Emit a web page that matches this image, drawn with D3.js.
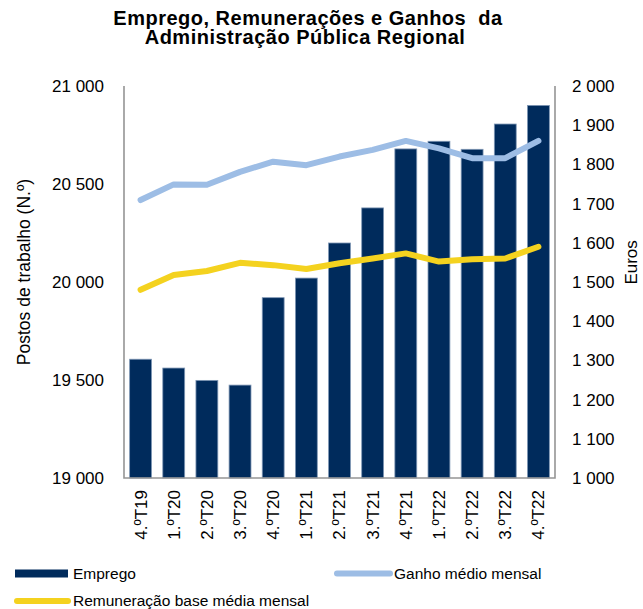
<!DOCTYPE html>
<html>
<head>
<meta charset="utf-8">
<script src="https://cdn.jsdelivr.net/npm/d3@7"></script>
<style>
  html, body { margin: 0; padding: 0; background: #fff; }
  svg { display: block; font-family: "Liberation Sans", Arial, sans-serif; }
</style>
</head>
<body>
<svg id="chart" width="643" height="609"></svg>
<script>
// Quarters shown on the horizontal axis
const quarters = ["4.ºT19", "1.ºT20", "2.ºT20", "3.ºT20", "4.ºT20", "1.ºT21", "2.ºT21",
                  "3.ºT21", "4.ºT21", "1.ºT22", "2.ºT22", "3.ºT22", "4.ºT22"];

// Jobs (left axis, number of posts)
const emprego = [19606, 19561, 19498, 19474, 19920, 20020, 20199, 20378, 20679, 20718, 20677, 20806, 20901];

// Average monthly earnings (right axis, euros)
const ganhoMedio = [1709, 1749, 1748, 1781, 1807, 1798, 1820, 1837, 1860, 1841, 1816, 1816, 1860];

// Average monthly base pay (right axis, euros)
const remuneracaoBase = [1480, 1518, 1528, 1549, 1543, 1533, 1548, 1560, 1573, 1552, 1558, 1560, 1590];

// Axis ticks
const leftTicks = [19000, 19500, 20000, 20500, 21000];
const rightTicks = [1000, 1100, 1200, 1300, 1400, 1500, 1600, 1700, 1800, 1900, 2000];

const titleLines = ["Emprego, Remunerações e Ganhos  da", "Administração Pública Regional"];
const seriesNames = ["Emprego", "Ganho médio mensal", "Remuneração base média mensal"];

const colors = { bar: "#002b5c", barEdge: "#7f97b5", ganho: "#9dbde5", remun: "#f4d21f", frame: "#959595" };

const svg = d3.select("#chart");
const plot = { left: 124, right: 555, top: 86, bottom: 478 };

const pt = d3.formatLocale({ decimal: ",", thousands: " ", grouping: [3], currency: ["", " €"] });
const fmt = pt.format(",d");

const x = d3.scaleBand().domain(quarters).range([plot.left, plot.right])
  .paddingInner(0.34).paddingOuter(0.17);
const yL = d3.scaleLinear().domain([19000, 21000]).range([plot.bottom, plot.top]);
const yR = d3.scaleLinear().domain([1000, 2000]).range([plot.bottom, plot.top]);

// Title, two lines
const titlePos = [{ x: 308, y: 25 }, { x: 305, y: 43.5 }];
svg.append("g").selectAll("text").data(titleLines).join("text")
  .attr("x", (d, i) => titlePos[i].x).attr("y", (d, i) => titlePos[i].y)
  .attr("text-anchor", "middle")
  .style("font-weight", "bold").style("font-size", "20px").style("letter-spacing", "0.5px")
  .style("white-space", "pre")
  .text(d => d);

// Bars
svg.append("g").selectAll("rect").data(emprego).join("rect")
  .attr("x", (d, i) => x(quarters[i]))
  .attr("width", x.bandwidth())
  .attr("y", d => yL(d))
  .attr("height", d => yL(19000) - yL(d))
  .attr("fill", colors.bar)
  .attr("stroke", colors.barEdge).attr("stroke-width", 0.8);

// Frame lines: left, right and bottom
const frame = svg.append("g").attr("stroke", colors.frame).attr("stroke-width", 1.6).attr("fill", "none");
frame.append("path").attr("d", `M${plot.left},${plot.top}V${plot.bottom}H${plot.right}V${plot.top}`);

// Lines
const lineFor = d3.line().x((d, i) => x(quarters[i]) + x.bandwidth() / 2).y(d => yR(d));
svg.append("path").datum(ganhoMedio).attr("d", lineFor)
  .attr("fill", "none").attr("stroke", colors.ganho).attr("stroke-width", 6)
  .attr("stroke-linejoin", "round").attr("stroke-linecap", "round");
svg.append("path").datum(remuneracaoBase).attr("d", lineFor)
  .attr("fill", "none").attr("stroke", colors.remun).attr("stroke-width", 6)
  .attr("stroke-linejoin", "round").attr("stroke-linecap", "round");

// Left axis
const axL = svg.append("g").attr("transform", `translate(${plot.left - 20},0)`)
  .call(d3.axisLeft(yL).tickValues(leftTicks).tickFormat(fmt).tickSize(0).tickPadding(0));
axL.select(".domain").remove();
axL.selectAll("text").style("font-size", "17px").style("font-family", "Liberation Sans, Arial, sans-serif").attr("fill", "#000");

// Right axis
const axR = svg.append("g").attr("transform", `translate(${plot.right + 17},0)`)
  .call(d3.axisRight(yR).tickValues(rightTicks).tickFormat(fmt).tickSize(0).tickPadding(0));
axR.select(".domain").remove();
axR.selectAll("text").style("font-size", "17px").style("font-family", "Liberation Sans, Arial, sans-serif").attr("fill", "#000");

// Bottom axis labels (rotated)
const axB = svg.append("g").attr("transform", `translate(0,${plot.bottom + 12})`)
  .call(d3.axisBottom(x).tickSize(0).tickPadding(0));
axB.select(".domain").remove();
axB.selectAll("text")
  .style("font-size", "17px").style("font-family", "Liberation Sans, Arial, sans-serif").attr("fill", "#000")
  .attr("transform", "rotate(-90)")
  .attr("text-anchor", "end")
  .attr("x", 0).attr("y", 0).attr("dy", "0.35em");

// Axis titles
svg.append("text")
  .attr("transform", "translate(24,272) rotate(-90)")
  .attr("text-anchor", "middle").attr("dy", "0.35em")
  .style("font-size", "17.5px")
  .text("Postos de trabalho (N.º)");
svg.append("text")
  .attr("transform", `translate(631,${yR(1550)}) rotate(-90)`)
  .attr("text-anchor", "middle").attr("dy", "0.35em")
  .style("font-size", "17px")
  .text("Euros");

// Legend
const lg = svg.append("g").style("font-size", "15.5px");
lg.append("rect").attr("x", 15).attr("y", 569.5).attr("width", 53).attr("height", 8).attr("fill", colors.bar);
lg.append("text").attr("x", 73).attr("y", 573.5).attr("dy", "0.35em").text(seriesNames[0]);
lg.append("line").attr("x1", 337).attr("x2", 390).attr("y1", 573.5).attr("y2", 573.5)
  .attr("stroke", colors.ganho).attr("stroke-width", 6).attr("stroke-linecap", "round");
lg.append("text").attr("x", 394).attr("y", 573.5).attr("dy", "0.35em").text(seriesNames[1]);
lg.append("line").attr("x1", 17).attr("x2", 68).attr("y1", 601).attr("y2", 601)
  .attr("stroke", colors.remun).attr("stroke-width", 6).attr("stroke-linecap", "round");
lg.append("text").attr("x", 73).attr("y", 601).attr("dy", "0.35em").text(seriesNames[2]);
</script>
</body>
</html>
